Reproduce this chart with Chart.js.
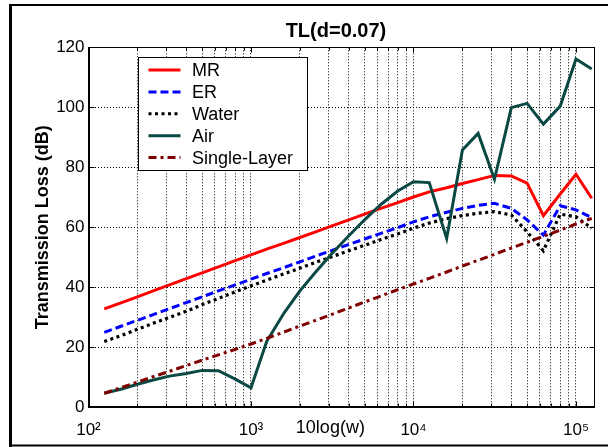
<!DOCTYPE html>
<html><head><meta charset="utf-8">
<script src="https://cdn.jsdelivr.net/npm/chart.js@4"></script>
<style>html,body{margin:0;padding:0;background:#fff;}canvas{display:block;}</style>
</head><body>
<canvas id="c" width="608" height="447"></canvas>
<script>
const freqs = [125,160,200,250,315,400,500,630,800,1000,1250,1600,2000,2500,3150,4000,5000,6300,8000,10000,12500,16000,20000,25000,31500,40000,50000,63000,80000,100000,125000];
const mrValues = [32.8,34.9,36.8,38.8,40.8,42.9,44.8,46.8,48.9,50.8,52.7,54.7,56.6,58.5,60.5,62.5,64.4,66.3,68.2,70.1,71.8,73.2,74.6,75.9,77.3,77.1,74.7,63.9,71.1,77.7,69.7];
const erValues = [25.0,27.1,29.0,30.9,32.9,34.9,36.8,38.8,40.8,42.7,44.6,46.6,48.5,50.4,52.3,54.3,56.1,58.0,59.9,61.8,63.5,65.0,66.3,67.3,68.0,66.3,62.5,57.4,67.2,65.8,63.2];
const waterValues = [21.9,24.0,26.0,28.0,30.0,32.0,34.2,36.3,38.5,40.5,42.4,44.5,46.4,48.3,50.2,52.2,54.0,55.9,57.8,59.7,61.4,62.9,63.9,64.7,65.2,64.1,58.5,52.2,64.4,63.5,59.7];
const airValues = [4.7,6.1,7.7,9.1,10.4,11.3,12.3,12.2,9.4,6.5,22.0,31.5,38.8,45.1,51.3,57.2,62.5,67.6,72.1,75.2,74.9,56.3,85.8,91.3,76.0,99.9,101.3,94.4,100.4,116.1,112.8];
const singleValues = [4.7,6.6,8.4,10.2,12.0,13.9,15.7,17.5,19.3,21.1,23.0,25.1,27.1,29.0,31.0,33.1,35.1,37.1,39.2,41.1,43.0,45.1,47.1,49.0,51.0,53.1,55.0,57.0,59.1,61.1,63.0];
const seriesLabels = ['MR','ER','Water','Air','Single-Layer'];
const xDecades = [100,1000,10000,100000];
const xDecadeLabels = ['10\u00B2','10\u00B3','10\u2074','10\u2075'];
const xMin = 100, xMax = 130000;
const yMin = 0, yMax = 120, yStep = 20;
const titleText = 'TL(d=0.07)';
const xTitleText = '10log(w)';
const yTitleText = 'Transmission Loss (dB)';

const FONT = "'Liberation Sans', Arial, Helvetica, sans-serif";

function pts(vals){ return freqs.map((f,i)=>({x:f,y:vals[i]})); }

const decorPlugin = {
  id: 'decor',
  afterDraw(chart) {
    const ctx = chart.ctx, a = chart.chartArea;
    const xs = chart.scales.x, ys = chart.scales.y;
    ctx.save();
    ctx.setLineDash([]);
    ctx.strokeStyle = '#000'; ctx.lineWidth = 1;
    const L = Math.round(a.left)+0.5, T = Math.round(a.top)+0.5, R = Math.round(a.right)-0.5, B = Math.round(a.bottom)-0.5;
    ctx.strokeRect(L, T, R-L, B-T);
    ctx.beginPath();
    ys.ticks.forEach(t => {
      const y = Math.round(ys.getPixelForValue(t.value))+0.5;
      ctx.moveTo(L, y); ctx.lineTo(L+5, y);
      ctx.moveTo(R, y); ctx.lineTo(R-5, y);
    });
    xs.ticks.forEach(t => {
      const x = Math.round(xs.getPixelForValue(t.value))+0.5;
      const len = xDecades.includes(t.value) ? 5 : 3;
      ctx.moveTo(x, B); ctx.lineTo(x, B-len);
      ctx.moveTo(x, T); ctx.lineTo(x, T+len);
    });
    ctx.stroke();
    ctx.fillStyle = '#000';
    ctx.textAlign = 'center'; ctx.textBaseline = 'middle';
    ctx.font = 'bold 20px ' + FONT;
    ctx.fillText(titleText, a.left + (a.right-a.left)*0.489, 31);
    ctx.font = '18px ' + FONT;
    ctx.fillText(xTitleText, a.left + (a.right-a.left)*0.478, 428);
    const bx = Math.round(a.left + 49)+0.5, by = Math.round(a.top + 10)+0.5, bw = 169, bh = 113;
    ctx.fillStyle = '#fff'; ctx.fillRect(bx, by, bw, bh);
    ctx.strokeStyle = '#000'; ctx.lineWidth = 1; ctx.strokeRect(bx, by, bw, bh);
    chart.data.datasets.forEach((ds, i) => {
      const cy = by + 12.5 + i*21.9;
      ctx.save();
      ctx.strokeStyle = ds.borderColor; ctx.lineWidth = 3;
      ctx.setLineDash(ds.borderDash || []);
      ctx.beginPath(); ctx.moveTo(bx+10, cy); ctx.lineTo(bx+42, cy); ctx.stroke();
      ctx.restore();
      ctx.fillStyle = '#000'; ctx.textAlign = 'left'; ctx.textBaseline = 'middle';
      ctx.font = '18px ' + FONT;
      ctx.fillText(ds.label, bx+53.5, cy+1);
    });
    ctx.strokeStyle = '#000';
    ctx.lineWidth = 2;
    ctx.beginPath(); ctx.moveTo(10, 5); ctx.lineTo(608, 5); ctx.stroke();
    ctx.beginPath(); ctx.moveTo(10, 445.5); ctx.lineTo(608, 445.5); ctx.stroke();
    ctx.lineWidth = 3;
    ctx.beginPath(); ctx.moveTo(10.5, 4); ctx.lineTo(10.5, 447); ctx.stroke();
    ctx.restore();
  }
};

const bgPlugin = {
  id: 'bg',
  beforeDraw(chart) {
    const ctx = chart.ctx; ctx.save(); ctx.fillStyle = '#fff'; ctx.fillRect(0,0,chart.width,chart.height); ctx.restore();
  }
};

new Chart(document.getElementById('c'), {
  type: 'line',
  data: {
    datasets: [
      {label: seriesLabels[0], data: pts(mrValues), borderColor: '#ff0000', borderWidth: 3, borderDash: [], order: 5},
      {label: seriesLabels[1], data: pts(erValues), borderColor: '#0000ff', borderWidth: 3, borderDash: [8,4], order: 4},
      {label: seriesLabels[2], data: pts(waterValues), borderColor: '#000000', borderWidth: 3.2, borderDash: [3,3.5], order: 3},
      {label: seriesLabels[3], data: pts(airValues), borderColor: '#0a4843', borderWidth: 3, borderDash: [], order: 2},
      {label: seriesLabels[4], data: pts(singleValues), borderColor: '#800000', borderWidth: 3, borderDash: [8,4,3,4], order: 1}
    ]
  },
  options: {
    responsive: false,
    animation: false,
    devicePixelRatio: 1,
    elements: { point: { radius: 0 }, line: { tension: 0, fill: false, borderCapStyle: 'butt', borderJoinStyle: 'miter' } },
    layout: { padding: { left: 0, right: 13.5, top: 47.3, bottom: 0 } },
    plugins: { legend: { display: false }, title: { display: false }, tooltip: { enabled: false } },
    scales: {
      x: {
        type: 'logarithmic', min: xMin, max: xMax,
        afterBuildTicks(scale) {
          const t = [];
          xDecades.forEach(d => { for (let m = 1; m <= 9; m++) { const v = d*m; if (v >= xMin && v <= xMax) t.push({value: v}); } });
          scale.ticks = t;
        },
        afterFit(scale) { scale.height = 39.7; },
        ticks: {
          autoSkip: false, maxRotation: 0, minRotation: 0, padding: 13, color: '#000',
          font: { family: FONT, size: 17 },
          callback(value) { const i = xDecades.indexOf(value); return i >= 0 ? xDecadeLabels[i] : ''; }
        },
        grid: { color: '#000', lineWidth: 1, drawTicks: false },
        border: { display: true, color: '#000', width: 1, dash: [1,2] }
      },
      y: {
        type: 'linear', min: yMin, max: yMax,
        afterFit(scale) { scale.width = 88.5; },
        ticks: { stepSize: yStep, padding: 4, color: '#000', font: { family: FONT, size: 17 } },
        grid: { color: '#000', lineWidth: 1, drawTicks: false },
        border: { display: true, color: '#000', width: 1, dash: [1,2] },
        title: { display: true, text: yTitleText, color: '#000', font: { family: FONT, size: 18, weight: 'bold' }, padding: { top: 32.2, bottom: 0 } }
      }
    }
  },
  plugins: [bgPlugin, decorPlugin]
});
</script>
</body></html>
